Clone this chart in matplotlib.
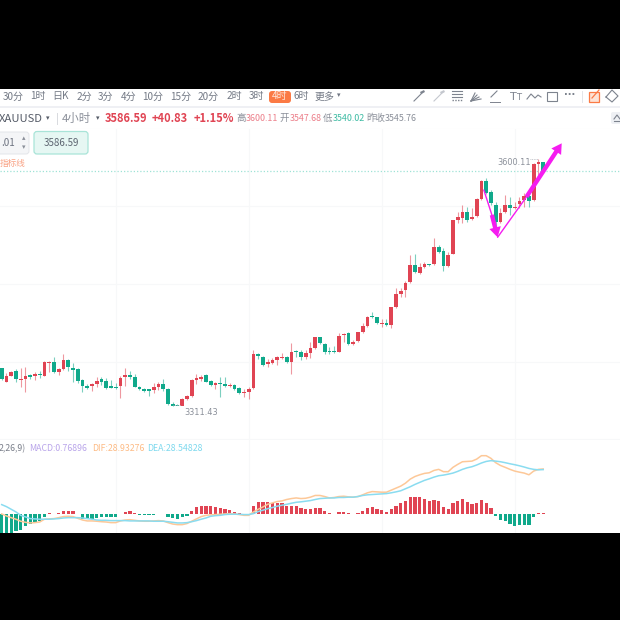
import matplotlib
matplotlib.use("Agg")
import matplotlib.pyplot as plt
from matplotlib.patches import FancyBboxPatch, Rectangle

plt.rcParams['font.family'] = ['Noto Sans CJK SC', 'DejaVu Sans']

opens = [3355.0,3339.3,3346.3,3351.8,3341.6,3342.0,3346.7,3346.3,3348.7,3346.3,3361.6,3362.0,3351.0,3353.8,3364.7,3355.7,3354.2,3341.3,3334.6,3334.2,
         3336.2,3342.0,3340.5,3333.8,3333.4,3334.6,3344.4,3347.1,3345.2,3333.4,3330.7,3330.3,3329.9,3333.4,3336.2,3330.7,3313.1,3311.5,3311.1,3319.4,
         3322.5,3341.3,3342.1,3347.6,3340.1,3335.8,3337.4,3336.6,3333.9,3335.4,3331.5,3325.7,3326.8,3331.5,3371.4,3368.7,3360.1,3361.6,3364.8,3367.1,
         3367.9,3362.8,3374.6,3373.8,3368.7,3373.4,3378.9,3391.4,3383.6,3375.4,3375.4,3374.6,3393.7,3396.9,3383.2,3386.7,3397.3,3404.3,3415.6,3414.9,
         3407.1,3407.8,3405.9,3426.6,3442.3,3447.0,3456.0,3475.9,3467.3,3474.0,3476.7,3477.1,3497.4,3492.3,3474.7,3489.6,3529.1,3531.5,3538.5,3529.9,
         3533.4,3553.8,3574.9,3562.4,3546.3,3526.4,3538.9,3546.7,3542.8,3547.5,3552.6,3557.7,3552.6,3594.8,3596.8]
closes = [3342.0,3346.3,3351.0,3342.0,3342.8,3345.6,3344.4,3348.3,3346.7,3362.0,3362.8,3350.6,3354.2,3364.7,3356.1,3353.0,3340.5,3334.6,3332.3,3336.2,
          3340.5,3339.3,3331.5,3332.3,3332.3,3344.0,3346.7,3345.2,3333.4,3330.7,3328.4,3328.4,3333.4,3336.2,3330.7,3313.1,3311.1,3310.7,3319.4,3322.5,
          3341.3,3344.0,3345.2,3339.4,3335.1,3337.4,3336.6,3334.3,3335.8,3330.7,3326.1,3326.8,3330.7,3371.4,3369.5,3358.9,3362.0,3364.8,3367.9,3368.3,
          3362.0,3373.8,3373.8,3368.7,3372.6,3378.5,3391.4,3384.3,3374.6,3374.6,3374.6,3393.3,3394.9,3383.6,3386.3,3397.3,3404.7,3415.6,3414.9,3407.8,
          3408.2,3405.9,3426.6,3441.9,3446.2,3455.6,3476.3,3468.1,3473.6,3477.1,3475.9,3497.0,3491.9,3475.1,3488.4,3528.7,3533.0,3538.5,3529.1,3533.0,
          3553.4,3574.9,3560.4,3548.7,3527.2,3537.7,3546.7,3542.8,3544.0,3551.8,3557.7,3551.8,3594.8,3596.8,3586.59]
highs = [3355.0,3349.1,3351.8,3353.8,3355.0,3356.1,3348.3,3350.3,3351.4,3363.9,3363.9,3367.9,3355.7,3371.8,3365.9,3360.8,3355.0,3342.0,3336.2,3338.1,
         3345.2,3344.4,3343.2,3341.3,3337.3,3345.9,3355.3,3351.8,3347.9,3334.6,3332.3,3331.1,3338.1,3338.5,3342.0,3331.5,3315.8,3313.1,3320.5,3323.7,
         3342.5,3347.9,3346.8,3348.4,3341.3,3338.6,3344.4,3344.4,3338.2,3336.6,3332.7,3330.4,3332.7,3376.5,3372.6,3369.5,3365.6,3366.7,3369.5,3372.6,
         3369.9,3384.3,3376.5,3376.5,3376.5,3386.3,3392.2,3392.2,3384.3,3380.4,3381.2,3396.1,3396.1,3397.3,3388.3,3398.0,3407.8,3416.4,3420.7,3415.6,
         3412.5,3412.9,3427.4,3448.9,3448.9,3457.9,3488.0,3488.8,3478.3,3480.2,3477.5,3507.6,3499.8,3495.9,3491.9,3529.1,3538.9,3546.7,3544.8,3542.8,
         3554.5,3576.1,3578.0,3564.3,3550.6,3542.8,3558.5,3556.5,3550.6,3556.5,3561.2,3560.4,3595.6,3600.11,3597.6]
lows = [3341.3,3338.5,3345.9,3339.3,3333.4,3327.6,3342.0,3341.3,3343.2,3345.9,3351.0,3349.9,3347.1,3353.4,3352.2,3339.3,3338.1,3326.8,3330.7,3328.7,
        3333.4,3335.4,3330.3,3331.5,3331.1,3319.7,3334.2,3342.0,3332.6,3329.5,3326.8,3322.5,3326.4,3329.5,3328.4,3311.9,3310.7,3311.43,3311.43,3317.8,
        3321.7,3336.2,3340.5,3338.6,3333.9,3330.4,3321.8,3333.5,3332.7,3329.6,3324.5,3321.8,3318.6,3331.1,3365.6,3358.1,3356.2,3359.7,3358.9,3365.6,
        3360.9,3348.4,3367.9,3364.8,3365.6,3366.7,3377.7,3383.2,3371.4,3371.8,3372.6,3374.2,3386.3,3382.8,3382.4,3385.9,3396.1,3403.9,3413.7,3406.6,
        3403.9,3404.7,3402.0,3425.8,3439.1,3439.1,3454.8,3466.5,3465.3,3472.4,3475.1,3476.7,3490.0,3468.9,3473.9,3489.2,3525.2,3525.2,3526.4,3529.1,
        3533.0,3552.6,3559.6,3546.7,3519.3,3525.2,3537.7,3535.0,3542.0,3542.8,3544.8,3544.8,3551.8,3581.9,3583.9]

macd = [-13.8,-13.4,-12.1,-11.2,-10.6,-7.8,-6.5,-6.0,-4.7,-2.2,0.4,0.2,0.9,2.2,2.2,1.7,0.1,-3.0,-3.0,-3.0,
        -2.6,-1.7,-1.9,-1.9,-1.9,0.2,1.1,1.7,0.9,-0.4,-0.4,-0.4,-0.4,0.2,0.1,-1.9,-2.6,-3.4,-2.2,-1.5,
        1.7,4.5,5.4,5.4,5.2,4.7,3.9,3.0,2.8,1.3,0.9,0.2,0.1,5.2,7.5,7.5,7.5,7.3,6.9,6.9,
        5.4,5.2,5.2,3.9,3.2,3.0,4.1,4.1,1.9,0.6,-0.3,1.1,1.5,0.6,0.2,0.6,1.9,4.1,4.3,3.4,
        2.4,1.5,3.0,5.0,6.9,8.6,11.0,11.0,10.8,9.9,8.2,9.1,8.4,4.7,3.2,6.9,8.6,9.5,7.8,6.7,
        7.1,9.1,7.3,4.1,-1.5,-3.7,-4.7,-6.2,-7.5,-6.9,-6.9,-6.9,-2.2,0.9,0.77]
dif = [0.0,-1.3,-2.4,-3.4,-4.7,-5.4,-5.8,-5.6,-5.2,-3.4,-3.2,-3.0,-2.4,-1.7,-1.5,-1.7,-2.8,-3.9,-4.5,-4.5,
       -4.7,-5.0,-5.2,-5.6,-5.6,-4.5,-3.9,-3.7,-4.1,-4.5,-4.7,-4.7,-4.5,-4.3,-4.5,-5.6,-6.5,-6.9,-6.9,-6.2,
       -4.7,-3.2,-1.7,-0.9,-0.6,-0.4,-0.2,0.0,0.2,0.0,-0.4,-0.9,-0.9,1.3,3.0,4.5,6.2,7.1,8.0,8.4,
       9.3,9.9,10.3,9.9,10.1,10.8,11.9,11.9,11.2,10.3,10.6,11.2,11.4,11.0,10.8,11.2,12.3,13.6,14.4,14.2,
       14.0,14.0,15.3,16.6,17.9,19.8,22.4,24.1,25.2,26.1,26.5,28.0,28.7,27.2,27.2,30.0,31.9,33.6,33.8,34.0,
       35.3,37.5,37.5,35.8,33.0,31.2,30.0,28.7,27.6,26.9,26.3,25.2,27.6,28.7,28.93]
dea = [6.0,4.7,3.0,1.3,-0.9,-1.9,-3.0,-3.2,-3.4,-3.4,-3.4,-3.2,-3.0,-2.6,-2.4,-2.4,-2.4,-2.6,-3.0,-3.4,
       -3.9,-4.1,-4.1,-4.3,-4.3,-4.3,-4.3,-4.5,-4.5,-4.5,-4.5,-4.5,-4.7,-4.7,-4.7,-5.0,-5.4,-5.8,-5.8,-5.6,
       -5.0,-4.3,-3.4,-2.6,-1.5,-1.1,-0.9,-0.4,-0.2,-0.2,-0.2,-0.4,-0.4,0.2,1.5,2.4,3.4,4.1,5.0,5.6,
       6.2,6.9,7.5,7.8,8.2,8.6,9.3,9.9,10.1,10.3,10.3,10.6,10.6,10.8,10.8,11.2,11.9,12.3,12.5,12.7,
       12.9,13.1,13.6,14.2,14.9,16.2,17.5,19.0,20.3,21.6,22.6,23.7,24.6,25.0,25.6,26.3,27.4,28.7,29.7,30.4,
       31.5,32.8,33.8,34.3,34.0,33.6,33.0,32.3,31.7,31.0,30.2,29.3,28.7,28.4,28.54]

intervals = ["30分","1时","日K","2分","3分","4分","10分","15分","20分","2时","3时","4时","6时","更多"]
interval_x = [13,38,61,84,106,129,153,181,208,234,257,280,301,325]

price_grid = [3272,3363,3454,3545]
time_grid = [24,52,80,108]
last_price = 3586.59
high_price, high_idx = 3600.11, 113
low_price, low_idx = 3311.43, 37
arrow_down = [(101.5,3564.3),(103.2,3535.0),(104.4,3508.8)]
arrow_up = [(104.4,3508.8),(110.5,3556.4),(117.9,3619.1)]

RED, GREEN = "#e04453", "#10a98b"
GRID = "#f7f8f9"

def W(px0, px1, py0, py1):
    return [px0/620, 1-py1/620, (px1-px0)/620, (py1-py0)/620]

fig = plt.figure(figsize=(6.2,6.2), dpi=100, facecolor="black")

ax = fig.add_axes(W(0,620,129,440), facecolor="white")
ax.set_xlim(-0.358,130.17)
ax.set_ylim(3787.3-1.1737*440, 3787.3-1.1737*129)
ax.set_xticks(time_grid); ax.set_yticks(price_grid)
ax.grid(True,color=GRID,lw=0.8); ax.set_axisbelow(True)
ax.tick_params(length=0,labelbottom=False,labelleft=False)
for s in ax.spines.values(): s.set_visible(False)
ax.axhline(last_price,color="#9fe3d6",lw=0.9,ls=(0,(1,1.6)),zorder=1)
idx = list(range(len(opens)))
colors = [RED if c>=o else GREEN for o,c in zip(opens,closes)]
ax.vlines(idx,lows,highs,colors=colors,lw=0.8,alpha=0.55,zorder=2)
ax.bar(idx,[max(abs(c-o),1.2) for o,c in zip(opens,closes)],bottom=[min(o,c) for o,c in zip(opens,closes)],
       width=0.8,color=colors,lw=0,zorder=3)

ax.annotate(f"{high_price:.2f}",xy=(high_idx,high_price),xytext=(-5.5,-2.5),textcoords="offset points",ha="right",va="center",
            fontsize=5.9,color="#8a8f99",family="DejaVu Sans")
ax.annotate(f"{low_price:.2f}",xy=(low_idx,low_price),xytext=(5,-5),textcoords="offset points",ha="left",va="center",
            fontsize=5.9,color="#8a8f99",family="DejaVu Sans")
ax.plot([high_idx-1.7,high_idx],[high_price,high_price],color="#b5b8bf",lw=0.6,ls=(0,(1,1)),zorder=3)
ax.plot([low_idx-1.0,low_idx+0.8],[low_price,low_price],color="#b5b8bf",lw=0.6,ls=(0,(1,1)),zorder=3)

for pts in (arrow_down,arrow_up):
    ax.plot([pts[0][0],pts[1][0]],[pts[0][1],pts[1][1]],color="#f51cf0",lw=1.0,zorder=7,solid_capstyle="round")
    ax.annotate("",xy=pts[2],xytext=pts[1],zorder=7,
                arrowprops=dict(arrowstyle="simple,head_length=0.6,head_width=0.7,tail_width=0.26",
                                color="#f51cf0",lw=0,shrinkA=0,shrinkB=0,mutation_scale=12))

bx = fig.add_axes(W(0,620,440,532.5), facecolor="white")
bx.set_xlim(-0.358,130.17)
bx.set_ylim(-11.95,47.6)
bx.set_xticks(time_grid); bx.set_yticks([])
bx.grid(True,axis="x",color=GRID,lw=0.8); bx.set_axisbelow(True)
bx.tick_params(length=0,labelbottom=False,labelleft=False)
for s in bx.spines.values(): s.set_visible(False)
bx.bar(idx,macd,width=0.66,color=[RED if v>=0 else GREEN for v in macd],lw=0,zorder=2)
bx.plot(idx,dif,color="#fdc898",lw=1.1,zorder=3)
bx.plot(idx,dea,color="#8adcf0",lw=1.1,zorder=4)

# interface overlay, in picture pixels
ui = fig.add_axes([0,0,1,1],facecolor="none",zorder=-1)
ui.set_xlim(0,620); ui.set_ylim(620,0); ui.axis("off")
ui.add_patch(Rectangle((0,89),620,40.5,fc="white",ec="none"))
ui.plot([0,620],[106.5,106.5],color="#eceef2",lw=1.2)
ui.plot([0,620],[129,129],color="#f4f5f6",lw=0.8)

ov = fig.add_axes([0,0,1,1],facecolor="none",zorder=5)
ov.set_xlim(0,620); ov.set_ylim(620,0); ov.axis("off")
ov.add_patch(FancyBboxPatch((269,91),22,12,boxstyle="round,pad=0,rounding_size=3",fc="#fb7a45",ec="none"))
for t,x in zip(intervals,interval_x):
    ov.text(x,96.5,t,ha="center",va="center",fontsize=7.2,color="#ffe6da" if t=="4时" else "#737985")
ov.text(339,95.5,"▾",ha="center",va="center",fontsize=5,color="#6d7380",family="DejaVu Sans")

tx = [
 (-1,"XAUUSD","#565c68",8.1,"normal"),(46,"▾","#565c68",5,"normal"),(62,"4小时","#8a8f99",8.2,"normal"),(96,"▾","#565c68",5,"normal"),
 (105,"3586.59",RED,8,"bold"),(152,"+40.83",RED,8,"bold"),(194,"+1.15%",RED,8,"bold"),
 (236,"高","#8a8f99",6.8,"normal"),(246,"3600.11","#ec7f8a",6.4,"normal"),(279,"开","#8a8f99",6.8,"normal"),(290,"3547.68","#ec7f8a",6.4,"normal"),
 (323,"低","#8a8f99",6.8,"normal"),(333,"3540.02","#3dbba3",6.4,"normal"),(366,"昨收","#8a8f99",6.8,"normal"),(385,"3545.76","#8a8f99",6.4,"normal"),
]
for x,t,c,s,w in tx:
    ov.text(x,118.5,t,ha="left",va="center",fontsize=s,color=c,fontweight=w)
ov.plot([57,57],[113,124],color="#d8dade",lw=0.7)

ov.add_patch(FancyBboxPatch((-6,132),35,22,boxstyle="round,pad=0,rounding_size=3",fc="#f4f5f7",ec="#e3e5e9",lw=0.7))
ov.text(1,142.5,".01",ha="left",va="center",fontsize=7,color="#6d7380")
ov.text(23.5,138,"▴",ha="center",va="center",fontsize=5,color="#8a8f99",family="DejaVu Sans")
ov.text(23.5,147,"▾",ha="center",va="center",fontsize=5,color="#8a8f99",family="DejaVu Sans")
ov.add_patch(FancyBboxPatch((34,131.5),54,22.5,boxstyle="round,pad=0,rounding_size=3",fc="#e6f7f3",ec="#a9e4d8",lw=0.9))
ov.text(61,142.5,"3586.59",ha="center",va="center",fontsize=7,color="#5c6470")
ov.text(0,163.5,"指标线",ha="left",va="center",fontsize=6.2,color="#f9a284")

ly = 448.5
ov.text(-1,ly,"2,26,9)",ha="left",va="center",fontsize=6.3,color="#7a7f8a")
ov.text(29,ly,"MACD:0.76896",ha="left",va="center",fontsize=6.3,color="#b9a5ea")
ov.text(92,ly,"DIF:28.93276",ha="left",va="center",fontsize=6.3,color="#fdbb85")
ov.text(147,ly,"DEA:28.54828",ha="left",va="center",fontsize=6.3,color="#7fd9ee")

# toolbar icons
ic = "#7d838e"
ov.plot([414,423],[101,92],color=ic,lw=0.8); ov.plot([421.5,423.5],[92.5,91.5],color=ic,lw=1.6)
ov.plot([434,443],[101,92],color="#c4c7ce",lw=0.8); ov.plot([441.5,443.5],[92.5,91.5],color="#c4c7ce",lw=1.6)
for y in (91,94,97): ov.plot([452,462],[y,y],color=ic,lw=0.8)
ov.plot([452,462],[100,100],color=ic,lw=1.0,ls=(0,(1,1)))
for dx in (2,4,6,8): ov.plot([471,471+dx+2],[101,91+dx],color=ic,lw=0.8)
ov.plot([491,497],[97,91],color=ic,lw=0.8); ov.plot([490,500],[101.5,101.5],color=ic,lw=0.7)
ov.text(513.5,96.5,"T",ha="center",va="center",fontsize=8,color=ic,family="DejaVu Sans")
ov.text(519,97.5,"T",ha="center",va="center",fontsize=6,color=ic,family="DejaVu Sans")
ov.plot([527,531,535,538,541],[99,94,98,95,97],color=ic,lw=0.8)
ov.add_patch(Rectangle((547,92),10,9,fc="none",ec=ic,lw=0.8))
ov.text(570,95,"···",ha="center",va="center",fontsize=7,color=ic,family="DejaVu Sans",fontweight="bold")
ov.plot([582,582],[91,102],color="#e3e5e9",lw=0.7)
ov.add_patch(Rectangle((589,92),9.5,9.5,fc="#fde3d6",ec="#fb7a45",lw=0.9))
ov.plot([592,599],[98,90],color="#fb7a45",lw=0.9)
ov.plot([606,612,618,612,606],[97,90,96,102,97],color=ic,lw=0.8)
ov.add_patch(FancyBboxPatch((611,112),14,12,boxstyle="round,pad=0,rounding_size=2",fc="#eef0f4",ec="none"))
ov.plot([614,617,620],[119,115,119],color=ic,lw=0.8); ov.plot([614,620],[121,121],color=ic,lw=0.8)

fig.savefig("out.png",dpi=100,facecolor="black")
